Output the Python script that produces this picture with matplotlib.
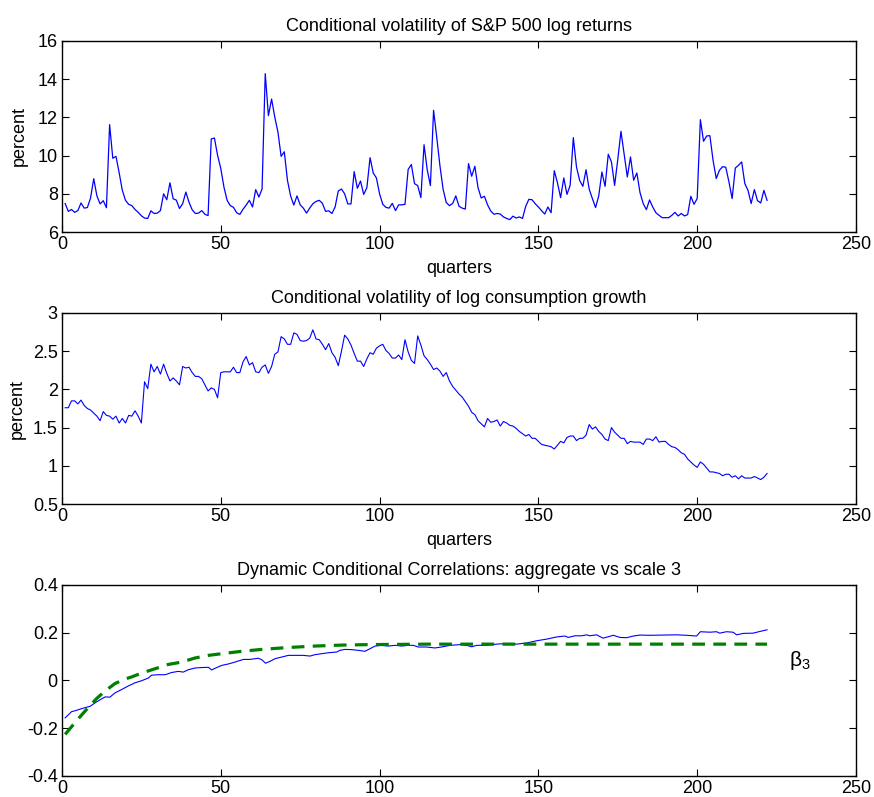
"""Conditional volatilities and dynamic conditional correlation, three stacked panels."""

import matplotlib

matplotlib.use("Agg")
import matplotlib.pyplot as plt
import numpy as np

plt.rcParams["font.family"] = ["Liberation Sans", "DejaVu Sans"]
plt.rcParams["mathtext.fontset"] = "custom"
plt.rcParams["mathtext.rm"] = "Liberation Sans"
plt.rcParams["mathtext.it"] = "Liberation Sans"

# S&P 500 conditional volatility, one value per quarter (1..222)
sp500_vol = [
    7.49, 7.08, 7.18, 7.03, 7.12, 7.52, 7.25, 7.28, 7.78, 8.79,
    7.89, 7.47, 7.64, 7.27, 11.62, 9.86, 9.96, 9.11, 8.18, 7.66,
    7.45, 7.38, 7.18, 7.03, 6.85, 6.73, 6.71, 7.11, 6.97, 6.99,
    7.12, 8.00, 7.69, 8.58, 7.74, 7.67, 7.23, 7.48, 8.09, 7.56,
    7.16, 6.97, 6.99, 7.12, 6.93, 6.86, 10.87, 10.92, 10.01, 9.33,
    8.35, 7.66, 7.38, 7.29, 7.01, 6.92, 7.19, 7.41, 7.66, 7.31,
    8.22, 7.83, 8.25, 14.29, 12.09, 12.96, 12.02, 11.23, 9.96, 10.20,
    8.70, 7.88, 7.41, 7.89, 7.42, 7.25, 6.99, 7.25, 7.48, 7.60,
    7.66, 7.50, 7.08, 7.11, 6.97, 7.31, 8.15, 8.25, 8.00, 7.47,
    7.47, 9.16, 8.29, 8.67, 7.97, 8.32, 9.89, 9.09, 8.83, 8.00,
    7.45, 7.29, 7.25, 7.50, 7.12, 7.42, 7.42, 7.45, 9.28, 9.53,
    8.53, 8.43, 7.80, 10.57, 9.26, 8.43, 12.37, 10.96, 9.47, 8.24,
    7.54, 7.38, 7.49, 7.89, 7.35, 7.25, 7.20, 9.58, 8.92, 9.44,
    8.32, 7.78, 7.87, 7.42, 7.10, 6.93, 6.97, 6.94, 6.79, 6.71,
    6.65, 6.83, 6.73, 6.79, 6.71, 7.34, 7.71, 7.69, 7.48, 7.31,
    7.12, 6.94, 7.31, 7.01, 9.21, 8.58, 7.80, 8.83, 7.97, 8.44,
    10.94, 9.40, 8.70, 8.39, 9.26, 8.24, 7.75, 7.28, 7.89, 9.14,
    8.39, 10.07, 9.67, 8.44, 9.80, 11.27, 10.07, 8.88, 9.93, 8.71,
    9.09, 8.06, 7.49, 7.17, 7.68, 7.31, 7.01, 6.87, 6.75, 6.75,
    6.75, 6.87, 7.03, 6.84, 6.97, 6.84, 6.91, 7.87, 7.45, 7.75,
    11.88, 10.75, 11.03, 11.04, 9.75, 8.80, 9.23, 9.42, 9.39, 8.62,
    7.75, 9.35, 9.49, 9.67, 8.53, 8.18, 7.49, 8.22, 7.64, 7.52,
    8.18, 7.66,
]

# consumption growth conditional volatility, one value per quarter (1..222)
cons_vol = [
    1.76, 1.76, 1.85, 1.85, 1.81, 1.86, 1.79, 1.75, 1.73, 1.69,
    1.65, 1.59, 1.71, 1.66, 1.65, 1.61, 1.65, 1.56, 1.62, 1.56,
    1.66, 1.65, 1.72, 1.65, 1.56, 2.10, 2.01, 2.33, 2.23, 2.30,
    2.20, 2.33, 2.21, 2.11, 2.15, 2.11, 2.06, 2.30, 2.28, 2.29,
    2.22, 2.17, 2.17, 2.14, 2.06, 1.98, 2.02, 2.00, 1.89, 2.22,
    2.23, 2.23, 2.23, 2.29, 2.22, 2.22, 2.36, 2.43, 2.32, 2.35,
    2.23, 2.22, 2.29, 2.32, 2.21, 2.30, 2.46, 2.49, 2.69, 2.66,
    2.59, 2.59, 2.74, 2.72, 2.64, 2.63, 2.64, 2.67, 2.78, 2.66,
    2.65, 2.59, 2.52, 2.60, 2.48, 2.42, 2.31, 2.50, 2.71, 2.66,
    2.58, 2.47, 2.37, 2.37, 2.30, 2.40, 2.48, 2.46, 2.54, 2.57,
    2.59, 2.51, 2.47, 2.41, 2.41, 2.45, 2.39, 2.65, 2.49, 2.38,
    2.34, 2.70, 2.58, 2.44, 2.39, 2.33, 2.26, 2.28, 2.24, 2.17,
    2.22, 2.11, 2.04, 1.99, 1.94, 1.90, 1.84, 1.78, 1.70, 1.67,
    1.59, 1.55, 1.51, 1.62, 1.57, 1.58, 1.60, 1.52, 1.58, 1.56,
    1.53, 1.52, 1.49, 1.45, 1.42, 1.39, 1.41, 1.36, 1.36, 1.32,
    1.28, 1.27, 1.26, 1.25, 1.22, 1.27, 1.32, 1.30, 1.37, 1.39,
    1.39, 1.33, 1.36, 1.36, 1.40, 1.54, 1.48, 1.51, 1.45, 1.41,
    1.35, 1.33, 1.50, 1.44, 1.40, 1.36, 1.36, 1.29, 1.32, 1.31,
    1.31, 1.31, 1.28, 1.35, 1.35, 1.33, 1.38, 1.31, 1.32, 1.32,
    1.28, 1.25, 1.24, 1.21, 1.17, 1.15, 1.09, 1.05, 1.01, 0.98,
    1.05, 1.02, 0.97, 0.92, 0.92, 0.91, 0.90, 0.87, 0.89, 0.89,
    0.85, 0.87, 0.83, 0.87, 0.84, 0.84, 0.84, 0.86, 0.84, 0.82,
    0.85, 0.90,
]

# dynamic conditional correlation (aggregate), read at these quarters
dcc_q = [
    1, 3, 4.6, 6.2, 8.9, 10.4, 12, 13.6, 15.1, 16.7,
    18.8, 20.9, 23, 25.1, 27.2, 28.2, 30.3, 32.5, 34.5, 36.6,
    38.2, 39.8, 41.9, 44, 46.1, 47.1, 48.2, 50.3, 52.4, 54.5,
    57.1, 59.2, 61.8, 62.9, 64.1, 65.5, 67.1, 69.2, 71.3, 73.4,
    76, 78.1, 79.7, 81.8, 83.9, 86.5, 87.5, 89.1, 91.2, 93.3,
    95.4, 97, 98.6, 100.6, 102.8, 104.9, 107, 109, 110.6, 112.2,
    114.8, 117.4, 119.5, 122.2, 125.3, 127.4, 129, 130.6, 133.7, 136.9,
    140, 143.1, 146.3, 149.4, 152.6, 155.7, 158.4, 159.4, 161.5, 163.6,
    165.2, 166.2, 168.3, 170.4, 173.6, 175.7, 177.8, 179.9, 182, 185.1,
    189.3, 193.5, 196.7, 199.8, 201, 204, 206.1, 207.1, 209.2, 211.3,
    212.4, 214.5, 217.6, 219.7, 222,
]
dcc_val = [
    -0.157, -0.131, -0.125, -0.118, -0.108, -0.094, -0.081, -0.069, -0.070, -0.052,
    -0.038, -0.023, -0.010, -0.001, 0.010, 0.022, 0.024, 0.024, 0.033, 0.038,
    0.035, 0.045, 0.052, 0.054, 0.055, 0.044, 0.051, 0.063, 0.069, 0.077,
    0.088, 0.088, 0.093, 0.087, 0.072, 0.080, 0.091, 0.098, 0.105, 0.105,
    0.105, 0.102, 0.108, 0.112, 0.116, 0.119, 0.126, 0.130, 0.129, 0.126,
    0.122, 0.133, 0.144, 0.147, 0.144, 0.147, 0.144, 0.147, 0.147, 0.140,
    0.140, 0.136, 0.140, 0.147, 0.150, 0.147, 0.141, 0.147, 0.147, 0.152,
    0.155, 0.152, 0.157, 0.166, 0.173, 0.182, 0.186, 0.180, 0.187, 0.187,
    0.191, 0.187, 0.191, 0.177, 0.189, 0.180, 0.179, 0.186, 0.190, 0.189,
    0.190, 0.191, 0.189, 0.186, 0.204, 0.202, 0.204, 0.198, 0.204, 0.202,
    0.191, 0.197, 0.198, 0.205, 0.212,
]

# beta_3 (scale 3 correlation), read at these quarters
beta3_q = [1, 3, 5.7, 8.3, 10.9, 13.6, 16.7, 19.9, 22, 25.1, 29.3, 33.5, 37.7,
           41.9, 46.1, 50.3, 56.6, 62.9, 71.3, 79.7, 88.1, 96.5, 106, 115.3, 222]
beta3_val = [-0.226, -0.194, -0.152, -0.113, -0.076, -0.044, -0.013, 0.006, 0.015,
             0.031, 0.049, 0.067, 0.077, 0.094, 0.105, 0.112, 0.122, 0.130, 0.138,
             0.144, 0.148, 0.150, 0.151, 0.152, 0.152]

quarters = np.arange(1, len(sp500_vol) + 1)

LEFT, WIDTH = 0.0709, 0.9085
PANELS = [0.7089, 0.3676, 0.0264]
HEIGHT = 0.2397
FS = 13


def style(ax, ylim, yticks):
    ax.set_xlim(0, 250)
    ax.set_xticks(range(0, 251, 50))
    ax.set_ylim(*ylim)
    ax.set_yticks(yticks)
    ax.tick_params(direction="in", length=5, width=0.8, labelsize=FS,
                   top=True, right=True, pad=3)
    for s in ax.spines.values():
        s.set_linewidth(1.0)


def main():
    fig = plt.figure(figsize=(8.74, 7.97), dpi=100)

    ax1 = fig.add_axes([LEFT, PANELS[0], WIDTH, HEIGHT])
    ax1.plot(quarters, sp500_vol, color="#0000ff", lw=0.9)
    style(ax1, (6, 16), range(6, 17, 2))
    ax1.set_title("Conditional volatility of S&P 500 log returns", fontsize=FS, pad=7)
    ax1.set_xlabel("quarters", fontsize=FS, labelpad=5)
    ax1.set_ylabel("percent", fontsize=FS, labelpad=7)

    ax2 = fig.add_axes([LEFT, PANELS[1], WIDTH, HEIGHT])
    ax2.plot(quarters, cons_vol, color="#0000ff", lw=0.8)
    style(ax2, (0.5, 3), [0.5, 1, 1.5, 2, 2.5, 3])
    ax2.set_yticklabels(["0.5", "1", "1.5", "2", "2.5", "3"])
    ax2.set_title("Conditional volatility of log consumption growth", fontsize=FS, pad=7)
    ax2.set_xlabel("quarters", fontsize=FS, labelpad=5)
    ax2.set_ylabel("percent", fontsize=FS, labelpad=5)

    ax3 = fig.add_axes([LEFT, PANELS[2], WIDTH, HEIGHT])
    ax3.plot(dcc_q, dcc_val, color="#0000ff", lw=0.8)
    ax3.plot(beta3_q, beta3_val, color="#008000", lw=2.3, dashes=(4, 2.6))
    style(ax3, (-0.4, 0.4), [-0.4, -0.2, 0, 0.2, 0.4])
    ax3.set_yticklabels(["-0.4", "-0.2", "0", "0.2", "0.4"])
    ax3.set_title("Dynamic Conditional Correlations: aggregate vs scale 3", fontsize=FS, pad=7)
    ax3.text(229, 0.085, r"$\mathrm{\beta}_3$", fontsize=15, va="center", ha="left")

    fig.savefig("out.png", dpi=100)


if __name__ == "__main__":
    main()
